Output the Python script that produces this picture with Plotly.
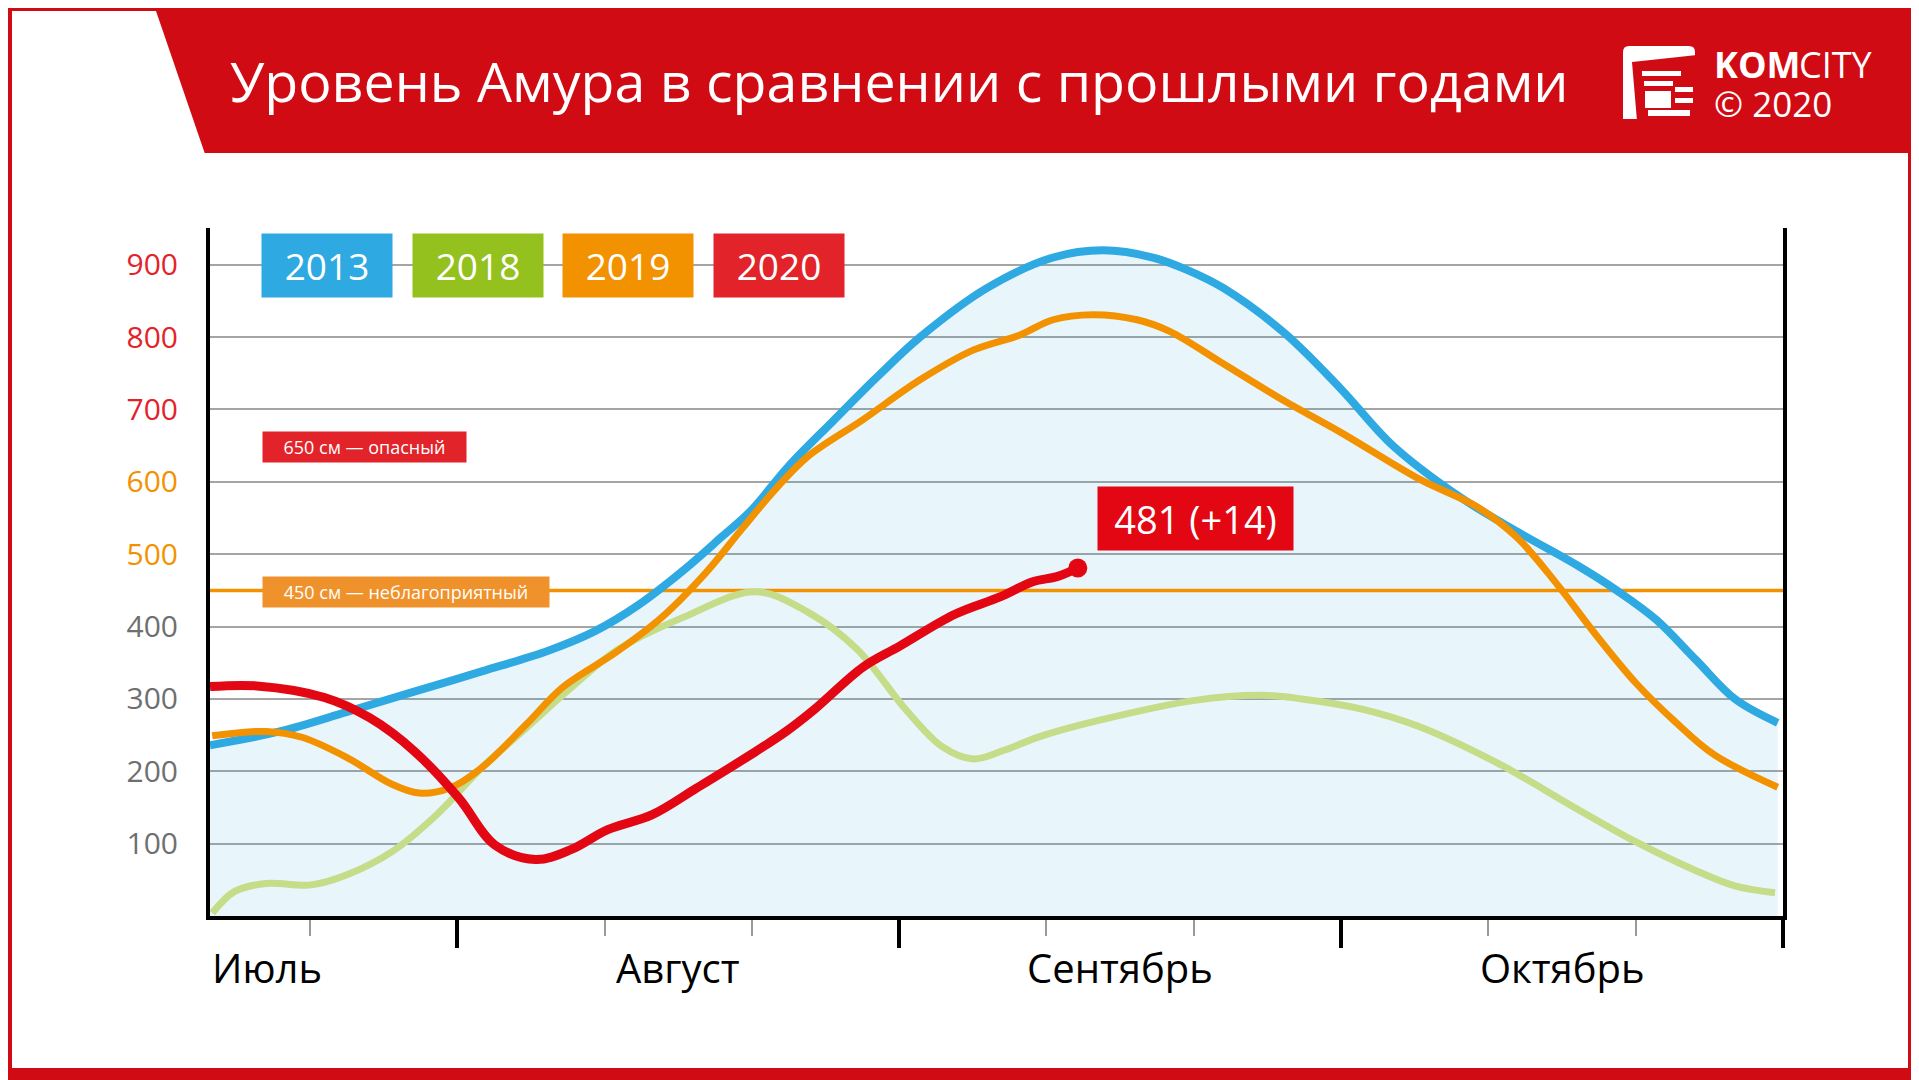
import plotly.graph_objects as go

# --- data (x in months: 1 = 1 Aug, 2 = 1 Sep, 3 = 1 Oct, 4 = 1 Nov) ---
x2013 = [0.44, 0.598, 0.750, 0.902, 1.055, 1.207, 1.309, 1.410, 1.512, 1.600, 1.664, 1.750,
         1.850, 1.950, 2.047, 2.199, 2.348, 2.461, 2.574, 2.651, 2.733, 2.871, 3.0, 3.117,
         3.269, 3.402, 3.536, 3.626, 3.712, 3.803, 3.891, 3.988]
y2013 = [236, 255, 282, 310, 338, 367, 393, 430, 478, 525, 560, 622,
         684, 745, 800, 868, 910, 920, 910, 893, 868, 806, 728, 650,
         579, 530, 484, 449, 410, 354, 300, 267]

x2018 = [0.445, 0.496, 0.567, 0.669, 0.750, 0.852, 0.953, 1.055, 1.156, 1.258, 1.360, 1.512,
         1.675, 1.793, 1.904, 2.015, 2.097, 2.167, 2.237, 2.318, 2.456, 2.669, 2.818, 2.911,
         3.047, 3.176, 3.352, 3.531, 3.665, 3.798, 3.889, 3.982]
y2018 = [4, 34, 45, 43, 57, 89, 140, 205, 260, 316, 367, 413,
         448, 420, 369, 285, 234, 217, 229, 248, 271, 298, 305, 300,
         286, 262, 212, 149, 103, 64, 42, 32]

x2019 = [0.445, 0.567, 0.648, 0.750, 0.852, 0.913, 0.983, 1.055, 1.156, 1.238, 1.360, 1.461,
         1.563, 1.644, 1.720, 1.793, 1.918, 2.047, 2.167, 2.273, 2.348, 2.438, 2.538, 2.612,
         2.726, 2.871, 3.0, 3.176, 3.309, 3.398, 3.488, 3.576, 3.667, 3.755, 3.844, 3.988]
y2019 = [249, 255, 247, 219, 182, 170, 177, 205, 265, 316, 365, 412,
         475, 535, 590, 635, 686, 741, 782, 803, 824, 831, 824, 808,
         766, 712, 668, 604, 565, 523, 459, 389, 322, 269, 223, 178]

x2020 = [0.44, 0.546, 0.699, 0.801, 0.902, 1.003, 1.085, 1.177, 1.258, 1.339, 1.441, 1.542,
         1.664, 1.746, 1.807, 1.918, 2.001, 2.126, 2.228, 2.302, 2.357, 2.404]
y2020 = [317, 318, 302, 274, 228, 163, 98, 78, 92, 119, 140, 177,
         223, 256, 285, 344, 373, 417, 441, 462, 469, 481]
change_2020 = 14

danger_level = 650
unfavorable_level = 450

y_ticks = [100, 200, 300, 400, 500, 600, 700, 800, 900]
months = ["Июль", "Август", "Сентябрь", "Октябрь"]
month_pos = [0.44, 1.5, 2.5, 3.5]
month_bounds = [1, 2, 3, 4]
decade_ticks = [0.667, 1.333, 1.667, 2.333, 2.667, 3.333, 3.667]
years = ["2013", "2018", "2019", "2020"]

# --- colours ---
RED_BG = "#d10b13"
BLUE = "#2ea9e1"
GREEN = "#c5dc89"
ORANGE = "#f39200"
RED = "#e30613"
LEG_COLORS = ["#2ea9e1", "#95c11f", "#f39200", "#e3232a"]
FONT = "Open Sans"

# the page body adds an 8px margin, so the figure is drawn 8px smaller and shifted
OFF = 8
W, H = 1919 - OFF, 1080 - OFF
L, R, T, B = 210, 1783, 228, 916


def px(x):
    return (x - L) / (R - L)


def py(y):
    return (B - y) / (B - T)


def tick_color(v):
    if v >= 700:
        return "#e3232a"
    if v >= 500:
        return "#f39200"
    return "#6f6f6f"


fig = go.Figure()

# light blue area under 2013
fig.add_trace(go.Scatter(x=x2013, y=y2013, mode="lines", fill="tozeroy",
                         fillcolor="rgba(46,169,225,0.11)",
                         line=dict(width=0, shape="spline"), hoverinfo="skip"))
# 450 cm threshold
fig.add_trace(go.Scatter(x=[0.44, 4.0], y=[unfavorable_level] * 2, mode="lines",
                         line=dict(color=ORANGE, width=3.5), hoverinfo="skip"))

fig.add_trace(go.Scatter(x=x2018, y=y2018, mode="lines", name="2018",
                         line=dict(color=GREEN, width=7, shape="spline")))
fig.add_trace(go.Scatter(x=x2013, y=y2013, mode="lines", name="2013",
                         line=dict(color=BLUE, width=8, shape="spline")))
fig.add_trace(go.Scatter(x=x2019, y=y2019, mode="lines", name="2019",
                         line=dict(color=ORANGE, width=7, shape="spline")))
fig.add_trace(go.Scatter(x=x2020, y=y2020, mode="lines", name="2020",
                         line=dict(color=RED, width=9, shape="spline")))
fig.add_trace(go.Scatter(x=[x2020[-1]], y=[y2020[-1]], mode="markers",
                         marker=dict(color=RED, size=19)))

shapes = [
    # white body and top-left cut of the red header
    dict(type="rect", xref="paper", yref="paper", x0=px(12), x1=px(1908), y0=py(1068), y1=py(153),
         fillcolor="white", line_width=0, layer="below"),
    dict(type="path", xref="paper", yref="paper", layer="below", fillcolor="white", line_width=0,
         path=f"M{px(12)},{py(11)} L{px(156)},{py(11)} L{px(205)},{py(154)} L{px(12)},{py(154)} Z"),
    # logo icon
    dict(type="path", xref="paper", yref="paper", fillcolor="white", line_width=0,
         path=f"M{px(1623)},{py(119)} L{px(1623)},{py(52)} Q{px(1623)},{py(46)} {px(1629)},{py(46)} "
              f"L{px(1689)},{py(46)} Q{px(1695)},{py(46)} {px(1695)},{py(52)} L{px(1695)},{py(119)} Z"),
    dict(type="path", xref="paper", yref="paper", fillcolor=RED_BG, line_width=0,
         path=f"M{px(1632)},{py(62)} L{px(1660)},{py(59)} L{px(1697)},{py(55)} L{px(1697)},{py(121)} "
              f"L{px(1637)},{py(121)} Z"),
]
for x0, y0, x1, y1 in [(1642, 71, 1681, 76), (1644, 81, 1673, 86), (1645, 91, 1671, 108),
                       (1675, 87, 1693, 92), (1675, 98, 1693, 103), (1648, 110, 1690, 116)]:
    shapes.append(dict(type="rect", xref="paper", yref="paper", x0=px(x0), x1=px(x1),
                       y0=py(y1), y1=py(y0), fillcolor="white", line_width=0))

annotations = [
    dict(text="Уровень Амура в сравнении с прошлыми годами", xref="paper", yref="paper",
         x=px(228), y=py(80), xanchor="left", yanchor="middle", showarrow=False,
         font=dict(family=FONT, size=55.5, color="white")),
    dict(text="<b>KOM</b>", xref="paper", yref="paper", x=px(1712), y=py(64),
         xanchor="left", yanchor="middle", showarrow=False,
         font=dict(family=FONT, size=36, color="white")),
    dict(text="CITY", xref="paper", yref="paper", x=px(1797), y=py(64),
         xanchor="left", yanchor="middle", showarrow=False,
         font=dict(family=FONT, size=36, color="white")),
    dict(text="© 2020", xref="paper", yref="paper", x=px(1712), y=py(104),
         xanchor="left", yanchor="middle", showarrow=False,
         font=dict(family=FONT, size=35, color="white")),
]

# year legend boxes
for i, (yr, col) in enumerate(zip(years, LEG_COLORS)):
    cx = 327 + i * 150.5
    annotations.append(dict(text=yr, xref="paper", yref="paper", x=px(cx), y=py(265.5),
                            xanchor="center", yanchor="middle", showarrow=False,
                            width=130, height=63, borderpad=0, bgcolor=col,
                            font=dict(family=FONT, size=37, color="white")))

# threshold labels
annotations.append(dict(text=f"{danger_level} см — опасный", xref="paper", yref="paper",
                        x=px(262), y=py(447), xanchor="left", yanchor="middle", showarrow=False,
                        width=203, height=30, borderpad=0, bgcolor="#e3232a",
                        font=dict(family=FONT, size=18, color="white")))
annotations.append(dict(text=f"{unfavorable_level} см — неблагоприятный", xref="paper", yref="paper",
                        x=px(262), y=py(592), xanchor="left", yanchor="middle", showarrow=False,
                        width=286, height=30, borderpad=0, bgcolor="#f0922b",
                        font=dict(family=FONT, size=18, color="white")))

# current value label
annotations.append(dict(text=f"{y2020[-1]} (+{change_2020})", xref="paper", yref="paper",
                        x=px(1195.5), y=py(518.5), xanchor="center", yanchor="middle",
                        showarrow=False, width=195, height=63, borderpad=0, bgcolor=RED,
                        font=dict(family=FONT, size=38, color="white")))

# month labels
for i, (m, pos) in enumerate(zip(months, month_pos)):
    annotations.append(dict(text=m, xref="x", yref="paper", x=pos, y=py(967),
                            xanchor="left" if i == 0 else "center", yanchor="middle",
                            showarrow=False, font=dict(family=FONT, size=40, color="black")))

fig.update_layout(
    width=W, height=H,
    margin=dict(l=L - OFF, r=1919 - R, t=T - OFF, b=1080 - B, pad=0),
    paper_bgcolor=RED_BG,
    plot_bgcolor="rgba(0,0,0,0)",
    showlegend=False,
    shapes=shapes,
    annotations=annotations,
    xaxis=dict(range=[0.44, 4.0], tickvals=month_bounds, showticklabels=False,
               ticks="outside", ticklen=28, tickwidth=4, tickcolor="black",
               showgrid=False, zeroline=False, showline=True, linewidth=4, linecolor="black",
               minor=dict(tickvals=decade_ticks, ticks="outside", ticklen=16, tickwidth=1.5,
                          tickcolor="#9a9a9a", showgrid=False)),
    yaxis=dict(range=[0, 950.8], tickvals=y_ticks,
               ticktext=[f'<span style="color:{tick_color(v)}">{v}</span>' for v in y_ticks],
               tickfont=dict(family=FONT, size=30, color="#6f6f6f"),
               ticks="", ticklabelstandoff=22,
               showgrid=True, gridcolor="#a5a5a5", gridwidth=2, zeroline=False,
               showline=True, linewidth=4, linecolor="black", mirror=True),
)

fig.write_html("out.html")
